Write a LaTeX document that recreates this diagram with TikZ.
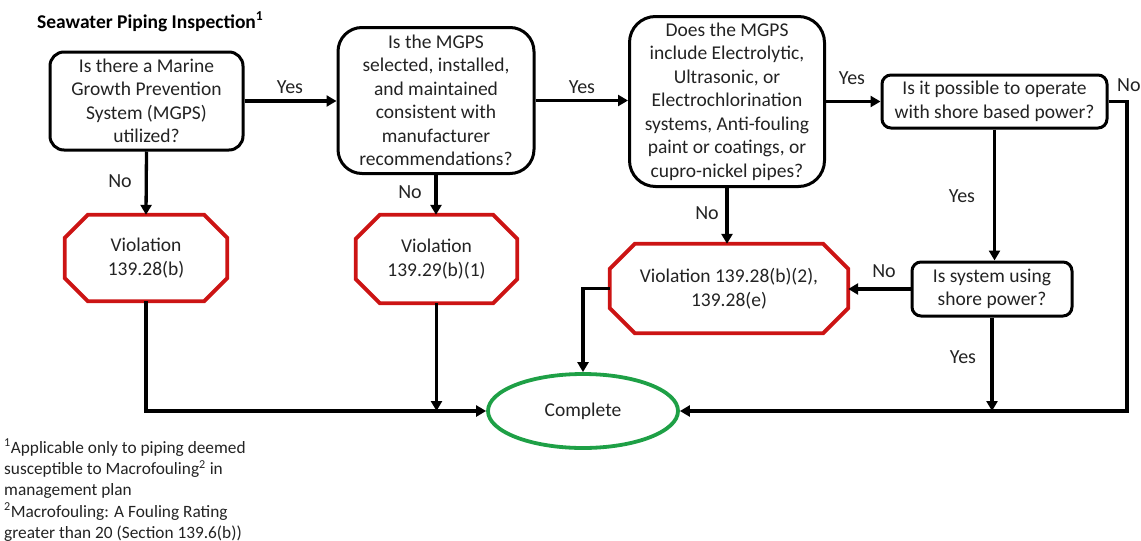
\documentclass[tikz,border=0pt]{standalone}
\usepackage{fontspec}
\setmainfont{Carlito}
\usetikzlibrary{arrows.meta,shapes.geometric}
\definecolor{vred}{RGB}{204,20,20}
\definecolor{okgreen}{RGB}{30,160,70}
\definecolor{txt}{RGB}{35,35,35}
\tikzset{
  box/.style={draw=black, line width=3pt, rounded corners=#1, align=center, inner sep=0pt,
    text=txt, font=\fontsize{19.5}{23.5}\selectfont},
  box/.default=14pt,
  octnode/.style={align=center, inner sep=0pt, text=txt, font=\fontsize{19.5}{23.5}\selectfont},
  octline/.style={draw=vred, line width=3.8pt, line join=miter},
  arr/.style={line width=3.3pt, -{Triangle[length=10pt,width=11pt]}},
  lbl/.style={inner sep=0pt, text=txt, font=\fontsize{20}{24}\selectfont},
  donenode/.style={draw=okgreen, line width=3.8pt, ellipse, inner sep=0pt, text=txt,
    font=\fontsize{19.5}{23.5}\selectfont}
}
\newcommand{\octdraw}[2]{%
  \draw[octline] ([xshift=#2]#1.north west) -- ([xshift=-#2]#1.north east)
    -- ([yshift=-#2]#1.north east) -- ([yshift=#2]#1.south east)
    -- ([xshift=-#2]#1.south east) -- ([xshift=#2]#1.south west)
    -- ([yshift=#2]#1.south west) -- ([yshift=-#2]#1.north west) -- cycle;}
\begin{document}
\begin{tikzpicture}[x=1pt,y=-1pt]
\useasboundingbox (0,0) rectangle (1141,541);
% title
\node[anchor=base west, inner sep=0pt, font=\fontsize{19.5}{23}\selectfont\bfseries] (title) at (37,28)
  {Seawater Piping Inspection\textsuperscript{1}};
% decision boxes
\node[box=14pt, minimum width=193pt, minimum height=98pt] (b1) at (146.5,101)
  {Is there a Marine\\Growth Prevention\\System (MGPS)\\utilized?};
\node[box=24pt, minimum width=196pt, minimum height=146pt] (b2) at (436,100.5)
  {Is the MGPS\\selected, installed,\\and maintained\\consistent with\\manufacturer\\recommendations?};
\node[box=26pt, minimum width=195pt, minimum height=170pt] (b3) at (727,101.5)
  {Does the MGPS\\include Electrolytic,\\Ultrasonic, or\\Electrochlorination\\systems, Anti-fouling\\paint or coatings, or\\cupro-nickel pipes?};
\node[box=9pt, minimum width=225pt, minimum height=53pt] (b4) at (994.5,101.5)
  {Is it possible to operate\\with shore based power?};
\node[box=9pt, minimum width=160pt, minimum height=54pt] (b5) at (992,289)
  {Is system using\\shore power?};
% violations
\node[octnode, minimum width=162pt, minimum height=86pt] (v1) at (146,258)
  {Violation\\139.28(b)};
\octdraw{v1}{23pt}
\node[octnode, minimum width=161pt, minimum height=88pt] (v2) at (436.5,259)
  {Violation\\139.29(b)(1)};
\octdraw{v2}{24pt}
\node[octnode, minimum width=238pt, minimum height=89pt] (v3) at (729,288.5)
  {Violation 139.28(b)(2),\\139.28(e)};
\octdraw{v3}{25pt}
% end
\node[donenode, minimum width=190pt, minimum height=74pt] (done) at (583,411) {Complete};
\coordinate (rr) at (1127,411);
% connectors
\draw[arr] (b1.east) -- (b1.east -| b2.west);
\draw[arr] (b1.south) -- (v1.north);
\draw[arr] (b2.east) -- (b2.east -| b3.west);
\draw[arr] (b2.south) -- (b2.south |- v2.north);
\draw[arr] (b3.east) -- (b3.east -| b4.west);
\draw[arr] (b3.south) -- (b3.south |- v3.north);
\draw[arr] (b4.south) -- (b4.south |- b5.north);
\draw[arr] (b5.west) -- (b5.west -| v3.east);
\draw[arr] (v1.south) |- (done.west);
\draw[arr] (v2.south) -- (v2.south |- done.west);
\draw[arr] (v3.west) -| (done.north);
\draw[arr] (b4.east) -- (b4.east -| rr) -- (rr) -- (done.east);
\draw[arr] (b5.south) -- (b5.south |- done.east);
% labels
\node[lbl] (y1) at (290,87) {Yes};
\node[lbl] (y2) at (582,87) {Yes};
\node[lbl] (y3) at (852,78) {Yes};
\node[lbl, anchor=west] (n4) at (1117,85) {No};
\node[lbl] (n1) at (120,181) {No};
\node[lbl] (n2) at (410,192) {No};
\node[lbl] (n3) at (707,213) {No};
\node[lbl] (y4) at (962,196) {Yes};
\node[lbl] (n5) at (884,271) {No};
\node[lbl] (y5) at (963,357) {Yes};
% footnote
\node[anchor=north west, inner sep=0pt, align=left, text=txt, font=\fontsize{17.3}{21.3}\selectfont] (foot) at (4,439)
  {\textsuperscript{1}Applicable only to piping deemed\\
   susceptible to Macrofouling\textsuperscript{2} in\\
   management plan\\
   \textsuperscript{2}Macrofouling: A Fouling Rating\\
   greater than 20 (Section 139.6(b))};
\end{tikzpicture}
\end{document}
